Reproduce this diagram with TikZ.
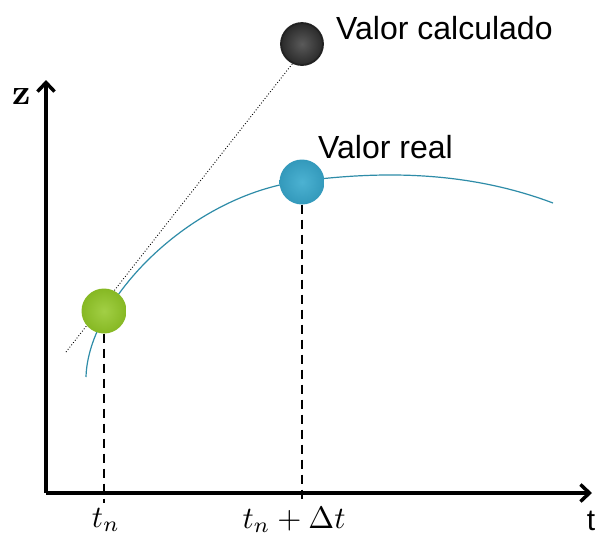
\documentclass[tikz,border=0pt]{standalone}
\usepackage{graphicx}
\usepackage{fontspec}
\setsansfont{Liberation Sans}
\usetikzlibrary{arrows.meta}
\definecolor{curvecol}{HTML}{2E8CA8}
\definecolor{greenA}{HTML}{A2CF45}
\definecolor{greenB}{HTML}{86B823}
\definecolor{blueA}{HTML}{4CB2D2}
\definecolor{blueB}{HTML}{3399BB}
\definecolor{darkA}{HTML}{5A5A5A}
\definecolor{darkB}{HTML}{2A2A2A}
\tikzset{
  axis/.style={line width=3.5pt,-{Straight Barb[length=9pt,width=17pt,line width=3.5pt]}},
  dropline/.style={line width=2.5pt,dash pattern=on 9pt off 6pt},
  ball/.style={circle,minimum size=45pt,inner sep=0pt},
  lbl/.style={font=\sffamily\fontsize{32}{36}\selectfont,anchor=west,inner sep=0pt},
  tick/.style={inner sep=0pt}
}
\begin{document}
\begin{tikzpicture}[x=1pt,y=-1pt]
\fill[white] (0,0) rectangle (603,539);
\useasboundingbox (0,0) rectangle (603,539);
% axes
\coordinate (O) at (46,493);
\coordinate (ztip) at (46,80);
\coordinate (ttip) at (592,493);
\draw[axis] (O) -- (ztip);
\draw[axis] (O) -- (ttip);
\node[inner sep=0pt] (zl) at (22,97) {\scalebox{3.6}{\bfseries z}};
\node[font=\sffamily\fontsize{30}{34}\selectfont,inner sep=0pt] (tl) at (591,521) {t};
% curve
\coordinate (c0) at (86,377);
\coordinate (c1) at (302,181);
\coordinate (c2) at (553,203);
\draw[curvecol,line width=1.2pt] (c0) .. controls (88,300) and (190,195) .. (c1)
  .. controls (370,172.5) and (460,168) .. (c2);
% dotted tangent
\coordinate (d0) at (66,352);
\draw[line width=0.9pt,dotted] (d0) -- (300,54);
% balls
\node[ball,draw=darkB!80!black,line width=1.8pt,inner color=darkA,outer color=darkB,minimum size=42pt] (calc) at (302,44) {};
\node[ball,inner color=blueA,outer color=blueB] (real) at (302,182) {};
\node[ball,inner color=greenA,outer color=greenB] (start) at (104,311) {};
% drop lines
\coordinate (a1) at (104,503);
\coordinate (a2) at (302,503);
\draw[dropline] (start.south) -- (a1);
\draw[dropline] (real.south) -- (a2);
% labels
\node[lbl] (lc) at (336,28) {Valor calculado};
\node[lbl] (lr) at (318,147) {Valor real};
\node[tick] (tn) at (106,520) {\scalebox{3.1}{$t_n$}};
\node[tick] (tnd) at (294,520) {\scalebox{3.1}{$t_n+\Delta t$}};
\end{tikzpicture}
\end{document}
